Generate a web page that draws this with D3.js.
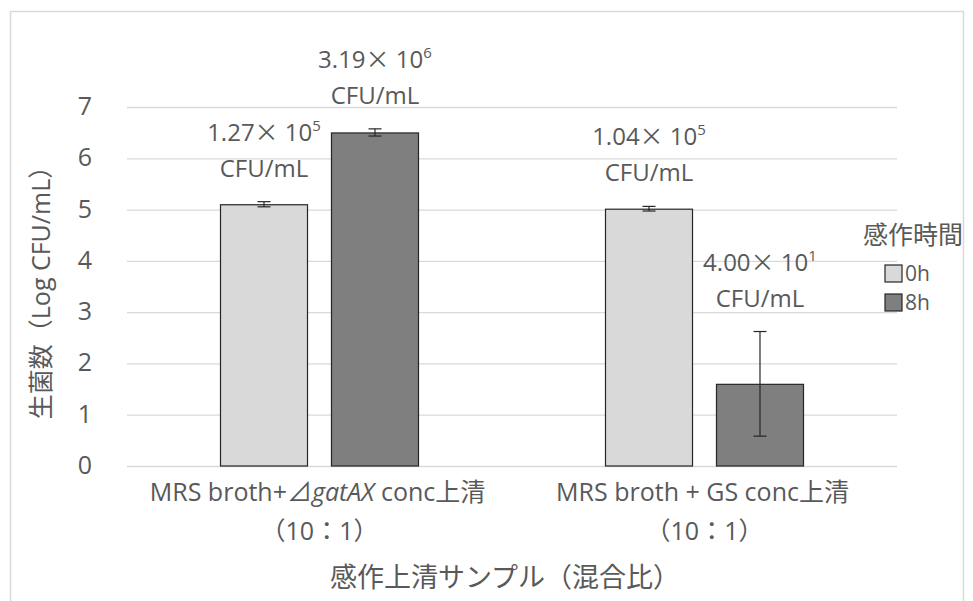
<!DOCTYPE html>
<html>
<head>
<meta charset="utf-8">
<script src="https://cdn.jsdelivr.net/npm/d3@7"></script>
<style>
  html, body { margin: 0; padding: 0; background: #fff; }
  svg { display: block; }
  text { font-family: "Open Sans", "Noto Sans CJK JP", sans-serif; fill: #595959; }
</style>
</head>
<body>
<svg id="chart" width="973" height="601"></svg>
<script>
// Sample groups (x categories) and their mixing-ratio sub-label
const categories = ["MRS broth+⊿gatAX conc上清", "MRS broth + GS conc上清"];
const ratioLabel = "（10：1）";
const italicTerms = ["gatAX"];

// Incubation times (series)
const series = ["0h", "8h"];

// Viable counts as stated on the labels: mantissa × 10^exponent CFU/mL
const mantissa0h = [1.27, 1.04];
const exponent0h = [5, 5];
const mantissa8h = [3.19, 4.00];
const exponent8h = [6, 1];

// Error (± in log units)
const err0h = [0.05, 0.045];
const err8h = [0.07, 1.02];

// Axis ticks
const yTicks = [0, 1, 2, 3, 4, 5, 6, 7];

const yTitle = "生菌数（Log CFU/mL）";
const xTitle = "感作上清サンプル（混合比）";
const legendTitle = "感作時間";

const colors = { "0h": "#d9d9d9", "8h": "#7f7f7f" };

const svg = d3.select("#chart");

// outer chart frame
svg.append("rect")
  .attr("x", 10.5).attr("y", 11.5)
  .attr("width", 953).attr("height", 620)
  .attr("fill", "none").attr("stroke", "#d9d9d9").attr("stroke-width", 1.5);

const plot = { left: 127, right: 897, top: 107, bottom: 466 };

const x0 = d3.scaleBand().domain(categories).range([plot.left, plot.right]);
const x1 = d3.scaleBand().domain(series).range([93, 292]).paddingInner(0.207).paddingOuter(0);
const y = d3.scaleLinear().domain([0, 7]).range([plot.bottom, plot.top]);

// gridlines and tick labels
const yAxis = d3.axisLeft(y).tickValues(yTicks).tickFormat(d3.format("d"))
  .tickSize(-(plot.right - plot.left)).tickPadding(35);
const gy = svg.append("g").attr("transform", `translate(${plot.left},0)`).call(yAxis);
gy.select(".domain").remove();
gy.selectAll(".tick line").attr("stroke", "#d9d9d9").attr("stroke-width", 1.3);
gy.selectAll(".tick text")
  .attr("font-size", 25).attr("fill", "#595959").attr("dy", "0.3em")
  .style("font-family", "'Open Sans', sans-serif");

// build rows
const rows = categories.map((c, i) => ({
  category: c,
  items: [
    { s: "0h", m: mantissa0h[i], e: exponent0h[i], err: err0h[i] },
    { s: "8h", m: mantissa8h[i], e: exponent8h[i], err: err8h[i] }
  ].map(d => ({ ...d, value: Math.log10(d.m * Math.pow(10, d.e)) }))
}));

const groups = svg.append("g").selectAll("g").data(rows).join("g")
  .attr("transform", d => `translate(${x0(d.category)},0)`);

groups.selectAll("rect").data(d => d.items).join("rect")
  .attr("x", d => x1(d.s) + 0.5)
  .attr("y", d => y(d.value) + 0.5)
  .attr("width", x1.bandwidth() - 1)
  .attr("height", d => y(0) - y(d.value) - 0.5)
  .attr("fill", d => colors[d.s])
  .attr("stroke", "#262626").attr("stroke-width", 1.2);

// error bars
const eb = groups.selectAll("g.err").data(d => d.items).join("g").attr("class", "err");
const cx = d => x1(d.s) + x1.bandwidth() / 2;
eb.append("line")
  .attr("x1", cx).attr("x2", cx)
  .attr("y1", d => y(d.value + d.err)).attr("y2", d => y(d.value - d.err))
  .attr("stroke", "#262626").attr("stroke-width", 1.2);
[1, -1].forEach(sign => {
  eb.append("line")
    .attr("x1", d => cx(d) - 6.5).attr("x2", d => cx(d) + 6.5)
    .attr("y1", d => y(d.value + sign * d.err)).attr("y2", d => y(d.value + sign * d.err))
    .attr("stroke", "#262626").attr("stroke-width", 1.2);
});

// value labels
const lbl = groups.selectAll("g.lbl").data(d => d.items).join("g").attr("class", "lbl")
  .attr("transform", d => `translate(${cx(d)},${y(d.value + d.err)})`);
const l1 = lbl.append("text").attr("text-anchor", "middle").attr("y", -61).attr("font-size", 24);
l1.append("tspan").text(d => d.m.toFixed(2));
l1.append("tspan").text("×").style("font-family", "'Noto Sans CJK JP'");
l1.append("tspan").text(" 10");
l1.append("tspan").text(d => d.e).attr("font-size", 15).attr("dy", -10);
lbl.append("text").attr("text-anchor", "middle").attr("y", -25).attr("font-size", 24).text("CFU/mL");

// category labels (with italic gene name)
const catText = svg.append("g").selectAll("text").data(categories).join("text")
  .attr("x", d => x0(d) + x0.bandwidth() / 2 - 2)
  .attr("y", 501)
  .attr("text-anchor", "middle")
  .attr("font-size", 25);
catText.each(function (d) {
  const t = d3.select(this);
  const re = new RegExp(`(${italicTerms.join("|")})`);
  d.split(re).filter(p => p.length).forEach(p => {
    const ts = t.append("tspan").text(p);
    if (italicTerms.includes(p)) ts.attr("font-style", "italic");
  });
});
svg.append("g").selectAll("text").data(categories).join("text")
  .attr("x", d => x0(d) + x0.bandwidth() / 2)
  .attr("y", 540)
  .attr("text-anchor", "middle")
  .attr("font-size", 25)
  .text(ratioLabel);

// axis titles
svg.append("text")
  .attr("x", 505).attr("y", 587)
  .attr("text-anchor", "middle").attr("font-size", 27)
  .text(xTitle);
svg.append("text")
  .attr("transform", `translate(50,${(plot.top + plot.bottom) / 2}) rotate(-90)`)
  .attr("text-anchor", "middle").attr("font-size", 25)
  .text(yTitle);

// legend
const lg = svg.append("g");
lg.append("text").attr("x", 963).attr("y", 244).attr("text-anchor", "end").attr("font-size", 25).text(legendTitle);
const li = lg.selectAll("g.item").data(series).join("g").attr("class", "item")
  .attr("transform", (d, i) => `translate(885,${265 + i * 29})`);
li.append("rect").attr("width", 17).attr("height", 17)
  .attr("fill", d => colors[d]).attr("stroke", "#262626").attr("stroke-width", 1.2);
li.append("text").attr("x", 20).attr("y", 16).attr("font-size", 21).text(d => d);
</script>
</body>
</html>
